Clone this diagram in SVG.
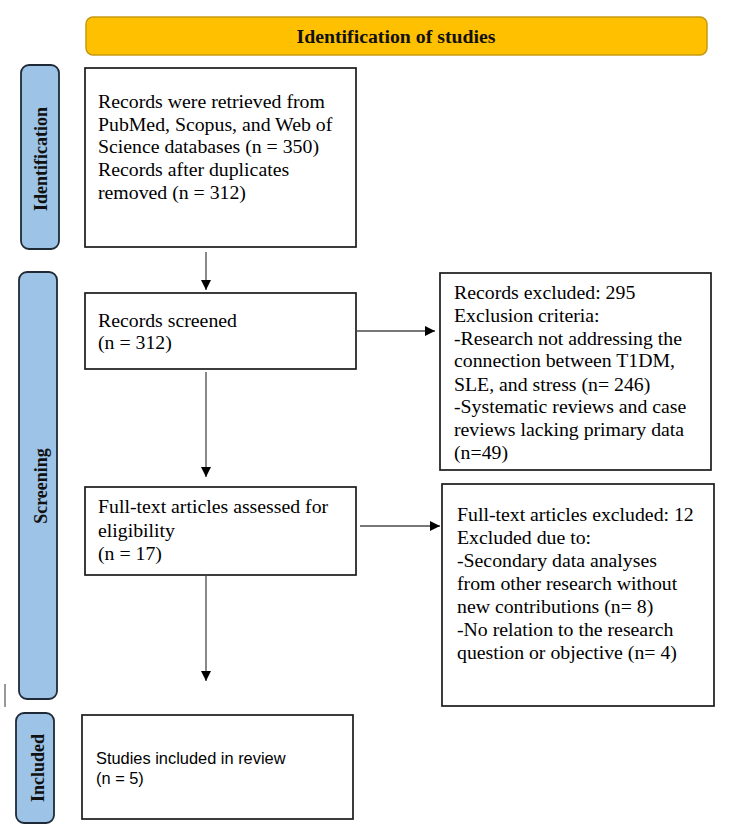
<svg xmlns="http://www.w3.org/2000/svg" width="750" height="838" viewBox="0 0 750 838">
<defs>
<marker id="ah" viewBox="0 0 10 10" refX="10" refY="5" markerWidth="10" markerHeight="11" markerUnits="userSpaceOnUse" orient="auto">
<path d="M0,0 L10,5 L0,10 Z" fill="#000"/>
</marker>
<style>
.box{fill:#fff;stroke:#1a1a1a;stroke-width:1.7}
.side{fill:#9dc3e6;stroke:#1f2a36;stroke-width:1.8}
.t{font-family:"Liberation Serif","Times New Roman",serif;font-size:19.8px;fill:#000}
.s{font-family:"Liberation Sans",Arial,sans-serif;font-size:16.4px;fill:#000}
.lab{font-family:"Liberation Serif","Times New Roman",serif;font-size:18px;font-weight:bold;fill:#111;text-anchor:middle}
.con{stroke:#4a4a4a;stroke-width:1.3;fill:none;marker-end:url(#ah)}
</style>
</defs>
<rect width="750" height="838" fill="#fff"/>
<g id="banner">
<rect x="86" y="17" width="621" height="38" rx="7" fill="#ffc000" stroke="#c59a12" stroke-width="1.5"/>
<text x="396" y="43" font-family="'Liberation Serif','Times New Roman',serif" font-size="19.8" font-weight="bold" text-anchor="middle" fill="#111">Identification of studies</text>
</g>
<g id="side-identification">
<rect x="21" y="65" width="38" height="184" rx="8" class="side"/>
<text class="lab" transform="translate(46.5,159) rotate(-90)">Identification</text>
</g>
<g id="side-screening">
<rect x="19" y="272" width="38" height="427" rx="8" class="side"/>
<text class="lab" transform="translate(46.5,486) rotate(-90)">Screening</text>
</g>
<g id="side-included">
<rect x="16" y="713" width="38" height="110" rx="8" class="side"/>
<text class="lab" transform="translate(43.5,768) rotate(-90)">Included</text>
</g>
<g id="stray">
<line x1="5" y1="684" x2="5" y2="707" stroke="#333" stroke-width="1"/>
</g>
<g id="box-identification">
<rect x="85" y="68" width="271" height="179" class="box"/>
<text class="t" x="98" y="108">Records were retrieved from</text>
<text class="t" x="98" y="131">PubMed, Scopus, and Web of</text>
<text class="t" x="98" y="153">Science databases (n = 350)</text>
<text class="t" x="98" y="176">Records after duplicates</text>
<text class="t" x="98" y="199">removed (n = 312)</text>
</g>
<g id="box-screened">
<rect x="85" y="293" width="271" height="76" class="box"/>
<text class="t" x="98" y="327">Records screened</text>
<text class="t" x="98" y="349">(n = 312)</text>
</g>
<g id="box-excluded">
<rect x="440" y="273" width="271" height="197" class="box"/>
<text class="t" x="454" y="299">Records excluded: 295</text>
<text class="t" x="454" y="322">Exclusion criteria:</text>
<text class="t" x="454" y="345">-Research not addressing the</text>
<text class="t" x="454" y="367">connection between T1DM,</text>
<text class="t" x="454" y="391">SLE, and stress (n= 246)</text>
<text class="t" x="454" y="413">-Systematic reviews and case</text>
<text class="t" x="454" y="436">reviews lacking primary data</text>
<text class="t" x="454" y="459">(n=49)</text>
</g>
<g id="box-fulltext">
<rect x="85" y="487" width="271" height="88" class="box"/>
<text class="t" x="98" y="513">Full-text articles assessed for</text>
<text class="t" x="98" y="537">eligibility</text>
<text class="t" x="98" y="560">(n = 17)</text>
</g>
<g id="box-ft-excluded">
<rect x="442" y="484" width="272" height="222" class="box"/>
<text class="t" x="457" y="521">Full-text articles excluded: 12</text>
<text class="t" x="457" y="544">Excluded due to:</text>
<text class="t" x="457" y="567">-Secondary data analyses</text>
<text class="t" x="457" y="590">from other research without</text>
<text class="t" x="457" y="613">new contributions (n= 8)</text>
<text class="t" x="457" y="636">-No relation to the research</text>
<text class="t" x="457" y="659">question or objective (n= 4)</text>
</g>
<g id="box-included">
<rect x="82" y="715" width="271" height="104" class="box"/>
<text class="s" x="96" y="764">Studies included in review</text>
<text class="s" x="96" y="784">(n = 5)</text>
</g>
<g id="connectors">
<line x1="206" y1="252" x2="206" y2="290" class="con"/>
<line x1="356" y1="331" x2="435" y2="331" class="con"/>
<line x1="206" y1="372" x2="206" y2="477" class="con"/>
<line x1="360" y1="526" x2="440" y2="526" class="con"/>
<line x1="206" y1="575" x2="206" y2="681" class="con"/>
</g>
</svg>
